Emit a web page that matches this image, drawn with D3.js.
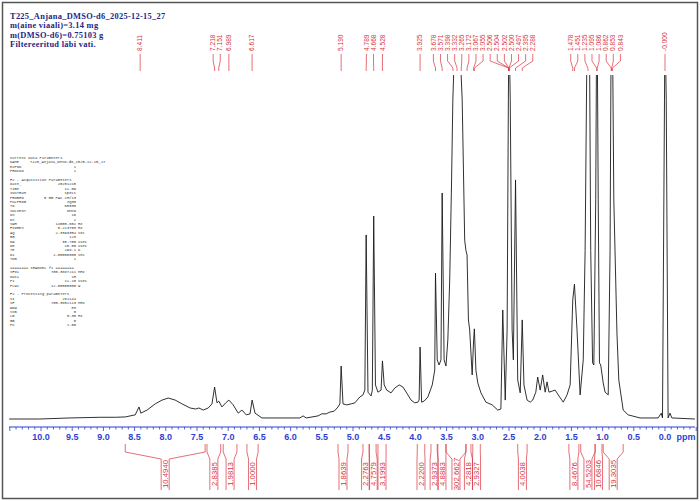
<!DOCTYPE html>
<html>
<head>
<meta charset="utf-8">
<script src="https://cdn.jsdelivr.net/npm/d3@7"></script>
<style>
  body { margin: 0; background: #fff; }
  svg { display: block; }
</style>
</head>
<body>
<div id="chart"></div>
<script>
// header lines
const titleLines = [
  "T225_Anjana_DMSO-d6_2025-12-15_27",
  "m(aine viaali)=3.14 mg",
  "m(DMSO-d6)=0.75103 g",
  "Filtereeritud läbi vati.",
];

// spectrum trace (ppm, relative intensity, 100 = top of plot)
const specPpm = [10.51, 10.02, 9.54, 9.05, 8.80, 8.65, 8.49, 8.43, 8.40, 8.30, 8.17, 8.06, 7.96, 7.85, 7.74, 7.61, 7.52, 7.47, 7.40, 7.32, 7.26, 7.218, 7.18, 7.151, 7.10, 7.04, 6.989, 6.92, 6.84, 6.78, 6.71, 6.65, 6.617, 6.57, 6.46, 5.85, 5.80, 5.75, 5.56, 5.50, 5.43, 5.37, 5.30, 5.24, 5.21, 5.190, 5.16, 5.10, 5.03, 4.97, 4.89, 4.84, 4.81, 4.789, 4.76, 4.71, 4.69, 4.668, 4.64, 4.60, 4.55, 4.528, 4.50, 4.46, 4.39, 4.33, 4.26, 4.20, 4.13, 4.07, 4.01, 3.96, 3.94, 3.925, 3.90, 3.86, 3.80, 3.73, 3.69, 3.678, 3.65, 3.62, 3.59, 3.571, 3.54, 3.51, 3.48, 3.45, 3.42, 3.40, 3.37, 3.332, 3.29, 3.25, 3.23, 3.21, 3.19, 3.172, 3.15, 3.13, 3.09, 3.067, 3.055, 3.03, 3.00, 2.95, 2.87, 2.77, 2.68, 2.63, 2.60, 2.56, 2.53, 2.51, 2.50, 2.48, 2.45, 2.43, 2.395, 2.36, 2.32, 2.288, 2.26, 2.21, 2.16, 2.12, 2.07, 2.04, 2.00, 1.96, 1.92, 1.89, 1.86, 1.81, 1.76, 1.70, 1.63, 1.57, 1.52, 1.478, 1.451, 1.41, 1.36, 1.31, 1.28, 1.25, 1.235, 1.21, 1.19, 1.16, 1.14, 1.11, 1.095, 1.086, 1.07, 1.05, 1.03, 0.99, 0.96, 0.91, 0.88, 0.862, 0.843, 0.82, 0.77, 0.74, 0.67, 0.59, 0.40, 0.11, 0.06, 0.04, 0.008, 0.000, -0.02, -0.05, -0.08, -0.11, -0.48];
const specInt = [0, 0, 0.3, 0.5, 0.5, 0.6, 1.2, 3.5, 1.7, 2.6, 4.4, 5.5, 6.1, 5.5, 4.4, 3.2, 2.9, 3.2, 2.6, 3.2, 4.4, 9.3, 4.7, 5.2, 3.5, 4.7, 5.5, 4.1, 1.7, 2.6, 1.2, 1.5, 5.5, 1.7, 0.3, 0.3, 0.9, 0.3, 0.9, 1.5, 1.5, 2.0, 2.3, 3.5, 4.4, 15.4, 4.4, 4.1, 4.4, 4.7, 6.4, 7.0, 8.4, 53.5, 7.8, 6.7, 8.4, 59.0, 9.9, 7.8, 8.4, 16.9, 9.9, 8.4, 7.6, 9.0, 9.9, 9.3, 7.3, 5.5, 4.7, 4.9, 5.5, 20.9, 4.9, 5.2, 6.4, 9.9, 14.2, 42.4, 17.2, 15.7, 17.2, 65.7, 17.2, 15.4, 23.0, 40.4, 69.5, 92.7, 110, 116, 110, 92.7, 72.4, 52, 49, 47.7, 28.8, 25.9, 12.8, 23, 26.2, 14.2, 10.5, 7.6, 4.9, 4.1, 2.6, 2.9, 31.7, 5.5, 25.9, 92.7, 116, 92.7, 25.9, 17.2, 69.5, 11.3, 7.6, 28.8, 9.9, 5.5, 4.9, 5.5, 7.8, 12.2, 8.4, 12.8, 7.8, 10.8, 7.8, 8.1, 8.4, 6.7, 4.9, 7.0, 9.9, 34.6, 39.2, 25.9, 7.0, 17.2, 49, 110, 116, 110, 49, 16.3, 15.7, 63.7, 116, 113, 63.7, 16.3, 15.7, 10.5, 7.8, 7.0, 49, 116, 116, 63.7, 25, 11.3, 2.6, 1.2, 0.3, 0.3, 1.7, 0.3, 92.7, 116, 92.7, 0.3, 1.7, 0.3, 0];

// peak picking labels
const peakLabels = ["8.411", "7.218", "7.151", "6.989", "6.617", "5.190", "4.789", "4.668", "4.528", "3.925", "3.678", "3.571", "3.398", "3.332", "3.265", "3.172", "3.067", "3.055", "2.506", "2.504", "2.502", "2.500", "2.497", "2.395", "2.288", "1.478", "1.451", "1.235", "1.095", "1.086", "0.862", "0.853", "0.843", "-0.000"];

// integral regions
const intFrom = [8.65, 7.34, 7.08, 6.70, 5.24, 4.84, 4.74, 4.60, 3.97, 3.75, 3.64, 3.51, 3.19, 3.08, 2.36, 1.54, 1.35, 1.12, 0.99];
const intTo = [7.37, 7.12, 6.86, 6.52, 5.08, 4.74, 4.63, 4.47, 3.85, 3.65, 3.51, 3.19, 3.11, 2.96, 2.21, 1.38, 1.12, 1.01, 0.67];
const intValues = ["10.4940", "2.8385", "1.9813", "1.0000", "1.8639", "2.2763", "4.7579", "3.1993", "2.2200", "2.9373", "4.8883", "302.6627", "4.2818", "2.9327", "4.0038", "8.4676", "54.5203", "10.6846", "19.3035"];

// axis
const axisTicks = [10.0, 9.5, 9.0, 8.5, 8.0, 7.5, 7.0, 6.5, 6.0, 5.5, 5.0, 4.5, 4.0, 3.5, 3.0, 2.5, 2.0, 1.5, 1.0, 0.5, 0.0];

// acquisition / processing parameter block
const params = [
  ["Current Data Parameters", "", ""],
  ["NAME", "T225_Anjana_DMSO-d6_2025-12-15_27", ""],
  ["EXPNO", "1", ""],
  ["PROCNO", "1", ""],
  ["", "", ""],
  ["F2 - Acquisition Parameters", "", ""],
  ["Date_", "20251215", ""],
  ["Time", "11.59", ""],
  ["INSTRUM", "spect", ""],
  ["PROBHD", "5 mm PAC 1H/13", ""],
  ["PULPROG", "zg30", ""],
  ["TD", "65536", ""],
  ["SOLVENT", "DMSO", ""],
  ["NS", "16", ""],
  ["DS", "2", ""],
  ["SWH", "14005.602", "Hz"],
  ["FIDRES", "0.213708", "Hz"],
  ["AQ", "2.3396354", "sec"],
  ["RG", "128", ""],
  ["DW", "35.700", "usec"],
  ["DE", "10.00", "usec"],
  ["TE", "298.1", "K"],
  ["D1", "2.00000000", "sec"],
  ["TD0", "1", ""],
  ["", "", ""],
  ["======== CHANNEL f1 ========", "", ""],
  ["SFO1", "700.3887211", "MHz"],
  ["NUC1", "1H", ""],
  ["P1", "11.15", "usec"],
  ["PLW1", "12.00000000", "W"],
  ["", "", ""],
  ["F2 - Processing parameters", "", ""],
  ["SI", "262144", ""],
  ["SF", "700.3852113", "MHz"],
  ["WDW", "EM", ""],
  ["SSB", "0", ""],
  ["LB", "0.30", "Hz"],
  ["GB", "0", ""],
  ["PC", "1.00", ""],
];

const W = 700, H = 501;
const red = "#d8323c";
const blue = "#2f3fd0";

const svg = d3.select("#chart").append("svg")
  .attr("width", W).attr("height", H)
  .style("font-family", "Liberation Sans, Arial, sans-serif");

// frame
svg.append("rect")
  .attr("x", 2.5).attr("y", 2.5)
  .attr("width", W - 5).attr("height", H - 5)
  .attr("fill", "none").attr("stroke", "#555").attr("stroke-width", 1.5);

const x = d3.scaleLinear().domain([10.513, -0.481]).range([9, 695]);
const y = d3.scaleLinear().domain([0, 100]).range([419, 75]);

// title
svg.append("g").selectAll("text")
  .data(titleLines)
  .join("text")
  .attr("x", 10)
  .attr("y", (d, i) => 19 + i * 9.4)
  .attr("fill", "#1c2684")
  .attr("font-family", "Liberation Serif, Times New Roman, serif")
  .attr("font-weight", "bold")
  .attr("font-size", 8.4)
  .attr("letter-spacing", 0.3)
  .text((d) => d);

// parameter block
const pg = svg.append("g")
  .attr("font-family", "Liberation Mono, DejaVu Sans Mono, monospace")
  .attr("font-size", 3.8)
  .attr("fill", "#333");
params.forEach((p, i) => {
  const py = 159 + i * 4.4;
  pg.append("text").attr("x", 10).attr("y", py).text(p[0]);
  if (p[1].length > 16) {
    // long values (file name) start after the key
    pg.append("text").attr("x", 30).attr("y", py).text(p[1]);
  } else if (p[1]) {
    pg.append("text").attr("x", 76).attr("y", py).attr("text-anchor", "end").text(p[1]);
  }
  if (p[2]) pg.append("text").attr("x", 78).attr("y", py).text(p[2]);
});

// spectrum
svg.append("clipPath").attr("id", "plotClip")
  .append("rect").attr("x", 9).attr("y", 75).attr("width", 686).attr("height", 350);

const spec = specPpm.map((p, i) => [p, specInt[i]]);
svg.append("path")
  .datum(spec)
  .attr("clip-path", "url(#plotClip)")
  .attr("fill", "none")
  .attr("stroke", "#1a1a1a")
  .attr("stroke-width", 0.9)
  .attr("d", d3.line().x((d) => x(d[0])).y((d) => y(d[1])));

// spread crowded labels so they do not overlap
function spread(xs, gap, slack) {
  const order = xs.map((v, i) => i).sort((a, b) => xs[a] - xs[b]);
  const groups = [];
  for (const i of order) {
    groups.push({ ids: [i], sum: xs[i] });
    while (groups.length > 1) {
      const g = groups[groups.length - 1], p = groups[groups.length - 2];
      const gStart = g.sum / g.ids.length - ((g.ids.length - 1) * gap) / 2;
      const pEnd = p.sum / p.ids.length + ((p.ids.length - 1) * gap) / 2;
      if (gStart - pEnd < gap + slack) {
        p.ids.push(...g.ids);
        p.sum += g.sum;
        groups.pop();
      } else break;
    }
  }
  const out = [];
  groups.forEach((g) => {
    const c = g.sum / g.ids.length;
    const s = c - ((g.ids.length - 1) * gap) / 2;
    g.ids.forEach((id, k) => (out[id] = s + k * gap));
  });
  return out;
}

// peak labels
const peakX = peakLabels.map((d) => x(+d));
const peakLX = spread(peakX, 7.1, 1);
const pl = svg.append("g");
peakLabels.forEach((d, i) => {
  pl.append("path")
    .attr("fill", "none")
    .attr("stroke", red)
    .attr("stroke-width", 0.7)
    .attr("d", `M${peakLX[i]},54 L${peakLX[i]},61 L${peakX[i]},68 L${peakX[i]},71`);
  pl.append("text")
    .attr("transform", `translate(${peakLX[i] + 2.2},51) rotate(-90)`)
    .attr("font-size", 6.6)
    .attr("fill", red)
    .text(d);
});

// x axis
const axisY = 427;
const ax = svg.append("g");
ax.append("line")
  .attr("x1", 9).attr("x2", 695)
  .attr("y1", axisY).attr("y2", axisY)
  .attr("stroke", blue).attr("stroke-width", 1.2);
const minor = d3.range(105, -49, -1).map((d) => d / 10);
ax.selectAll("line.minor")
  .data(minor)
  .join("line")
  .attr("class", "minor")
  .attr("x1", (d) => x(d)).attr("x2", (d) => x(d))
  .attr("y1", axisY).attr("y2", (d) => (Math.abs(d * 2 - Math.round(d * 2)) < 1e-6 ? axisY + 4 : axisY + 2.5))
  .attr("stroke", blue).attr("stroke-width", 0.8);
ax.selectAll("text.tick")
  .data(axisTicks)
  .join("text")
  .attr("class", "tick")
  .attr("x", (d) => x(d))
  .attr("y", 440)
  .attr("text-anchor", "middle")
  .attr("font-size", 9)
  .attr("font-weight", "bold")
  .attr("fill", blue)
  .text((d) => d.toFixed(1));
ax.append("text")
  .attr("x", 686).attr("y", 440)
  .attr("text-anchor", "middle")
  .attr("font-size", 9)
  .attr("font-weight", "bold")
  .attr("fill", blue)
  .text("ppm");

// integrals
const intMid = intFrom.map((d, i) => (x(d) + x(intTo[i])) / 2);
const intLX = spread(intMid, 7.6, 0);
const ig = svg.append("g");
intValues.forEach((v, i) => {
  const a = x(intFrom[i]), b = x(intTo[i]), c = intLX[i];
  ig.append("path")
    .attr("fill", "none")
    .attr("stroke", red)
    .attr("stroke-width", 0.7)
    .attr("d", `M${a},444 L${a},452 L${c - 4},459 L${c - 4},490 M${b},444 L${b},452 L${c + 4},459 L${c + 4},490`);
  ig.append("text")
    .attr("transform", `translate(${c + 2.8},474) rotate(-90)`)
    .attr("text-anchor", "middle")
    .attr("font-size", 7.8)
    .attr("fill", red)
    .text(v);
});
</script>
</body>
</html>
